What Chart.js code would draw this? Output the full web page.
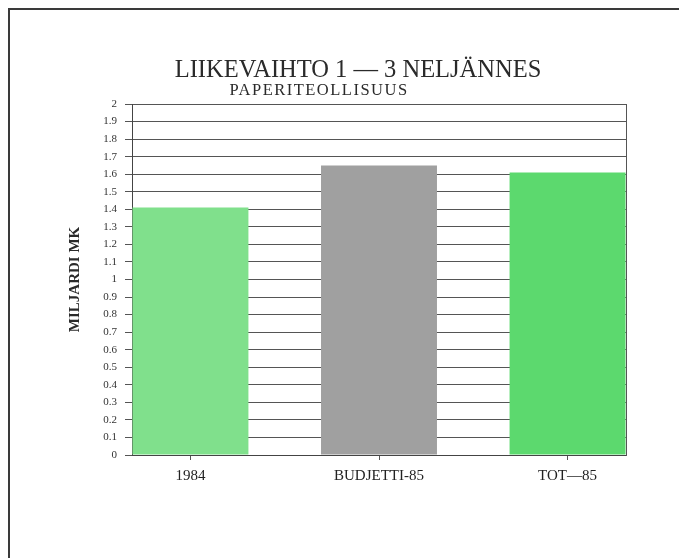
<!DOCTYPE html>
<html>
<head>
<meta charset="utf-8">
<script src="https://cdn.jsdelivr.net/npm/chart.js@4"></script>
<style>
  html, body { margin: 0; padding: 0; background: #fff; }
  #wrap { position: relative; width: 679px; height: 558px; overflow: hidden; }
  #frame { position: absolute; left: 8px; top: 8px; right: -10px; bottom: -10px;
           border-left: 2px solid #3a3a3a; border-top: 2px solid #3a3a3a; pointer-events: none; }
</style>
</head>
<body>
<div id="wrap">
  <canvas id="chart" width="679" height="558"></canvas>
  <div id="frame"></div>
</div>
<script>
var titleText = 'LIIKEVAIHTO 1 \u2014 3 NELJ\u00c4NNES';
var subtitleText = 'PAPERITEOLLISUUS';
var yTitle = 'MILJARDI MK';
var categories = ['1984', 'BUDJETTI-85', 'TOT\u201485'];
var values = [1.41, 1.65, 1.61];
var barColors = ['#80e08c', '#a0a0a0', '#5cd96e'];
var yMin = 0, yMax = 2, yStep = 0.1;

var serif = "'Liberation Serif', 'DejaVu Serif', serif";

// title + subtitle, drawn above the plot
var headings = {
    id: 'headings',
    afterDraw(chart) {
        const ctx = chart.ctx;
        const a = chart.chartArea;
        const cx = (a.left + a.right) / 2;
        ctx.save();
        ctx.fillStyle = '#2a2a2a';
        ctx.textAlign = 'center';
        ctx.textBaseline = 'alphabetic';
        ctx.font = '24.5px ' + serif;
        ctx.fillText(titleText, cx - 21, a.top - 27);
        ctx.font = '16.5px ' + serif;
        ctx.letterSpacing = '1.5px';
        ctx.fillText(subtitleText, cx - 60, a.top - 9);
        ctx.restore();
    }
};

var points = [];
for (let i = 0; i < values.length; i++) points.push({x: i, y: values[i]});

new Chart(document.getElementById('chart'), {
    type: 'bar',
    data: {
        datasets: [{
            data: points,
            backgroundColor: barColors,
            borderWidth: 0,
            barPercentage: 0.615,
            categoryPercentage: 1
        }]
    },
    options: {
        responsive: false,
        animation: false,
        layout: { padding: { left: 60, right: 53, top: 104, bottom: 63 } },
        plugins: { legend: { display: false }, tooltip: { enabled: false } },
        scales: {
            x: {
                type: 'linear',
                min: -0.31,
                max: 2.31,
                offset: false,
                afterBuildTicks: s => { s.ticks = categories.map((c, i) => ({value: i})); },
                afterFit: s => { s.height = 40; },
                grid: { display: true, offset: false, drawOnChartArea: false, drawTicks: true, tickLength: 5, color: '#555' },
                border: { display: true, color: '#444' },
                ticks: {
                    autoSkip: false,
                    maxRotation: 0,
                    padding: 7,
                    color: '#222',
                    font: { family: serif, size: 15 },
                    callback: v => categories[v]
                }
            },
            y: {
                min: yMin,
                max: yMax,
                z: 1,
                afterFit: s => { s.width = 72; },
                grid: { color: '#555', lineWidth: 1, tickLength: 7 },
                border: { display: true, color: '#444' },
                ticks: {
                    stepSize: yStep,
                    autoSkip: false,
                    padding: 8,
                    color: '#333',
                    font: { family: serif, size: 11 },
                    callback: v => String(Math.round(v * 10) / 10)
                },
                title: {
                    display: true,
                    text: yTitle,
                    color: '#2a2a2a',
                    font: { family: serif, size: 15, weight: 'bold', lineHeight: 1.2 },
                    padding: { top: 6, bottom: 0 }
                }
            },
            y2: {
                position: 'right',
                min: yMin,
                max: yMax,
                afterFit: s => { s.width = 0; },
                grid: { display: false, drawTicks: false },
                border: { display: true, color: '#555' },
                ticks: { display: false }
            }
        }
    },
    plugins: [headings]
});
</script>
</body>
</html>
